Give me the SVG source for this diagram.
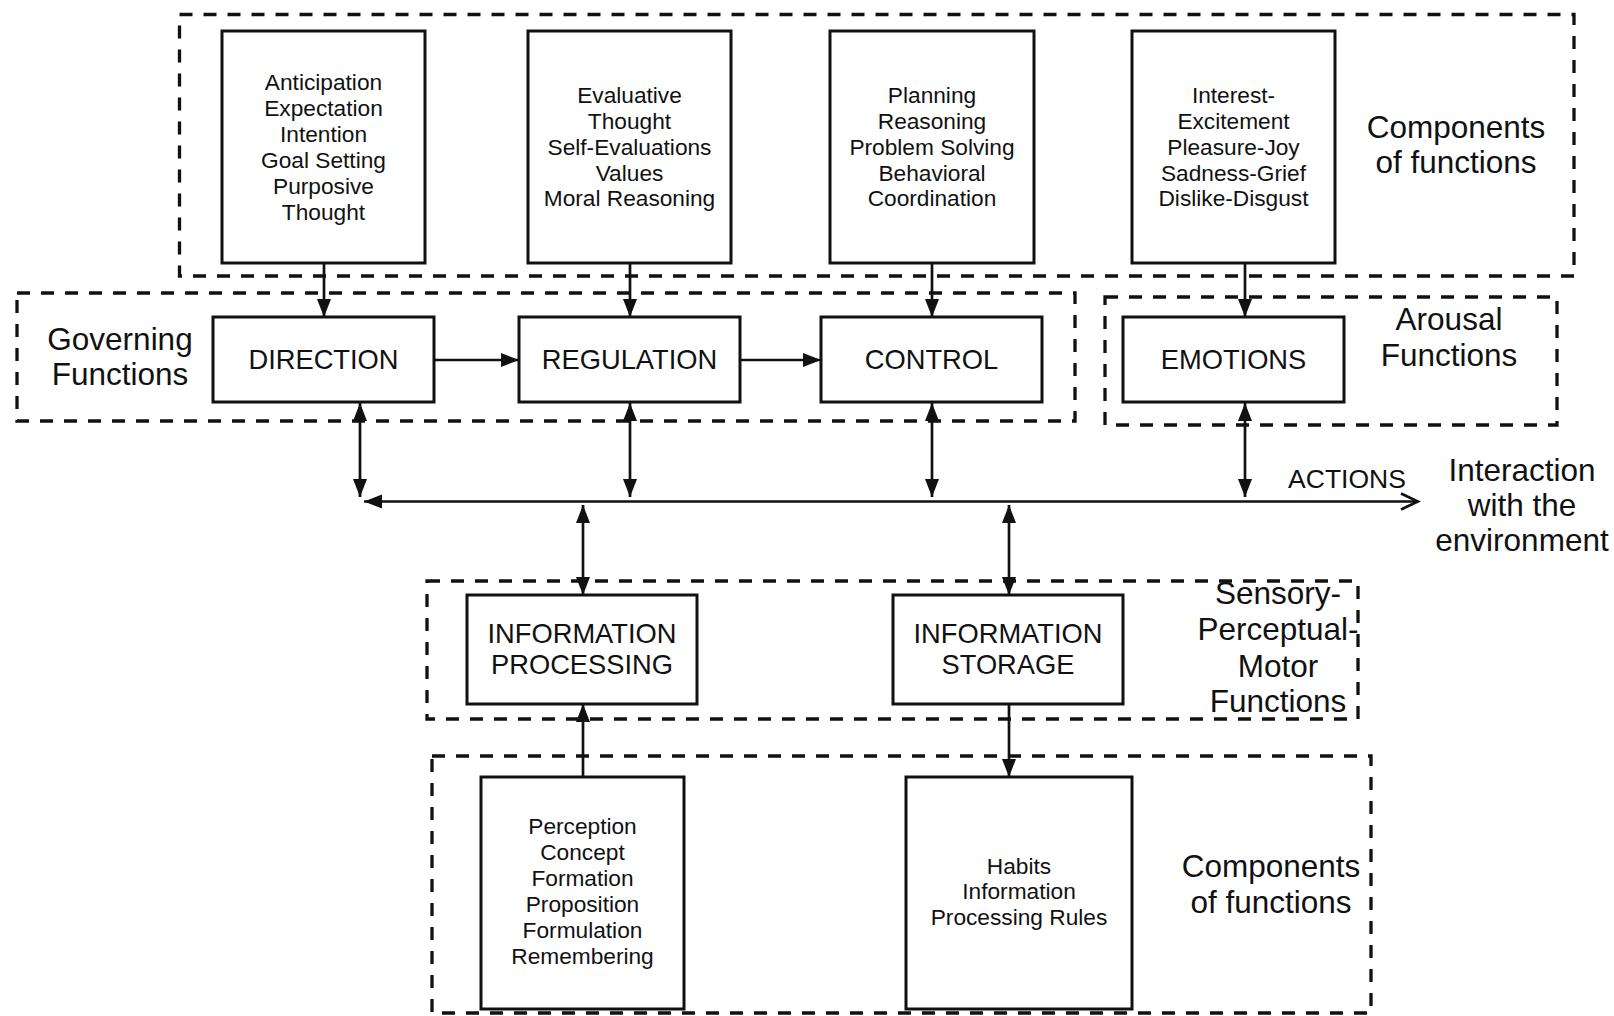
<svg xmlns="http://www.w3.org/2000/svg" width="1614" height="1016" viewBox="0 0 1614 1016">
<style>
text{font-family:"Liberation Sans",Arial,sans-serif;fill:#111;text-anchor:middle}
.sm{font-size:22.7px}
.md{font-size:27.3px}
.lg{font-size:31.5px}
.act{font-size:26.5px}
.box{fill:#fff;stroke:#111;stroke-width:3}
.dash{fill:none;stroke:#111;stroke-width:3.3;stroke-dasharray:13 11}
.ln{fill:none;stroke:#111;stroke-width:2.7}
.one{marker-end:url(#ah)}
.two{marker-start:url(#ah);marker-end:url(#ah)}
</style>
<defs>
<marker id="ah" markerUnits="userSpaceOnUse" markerWidth="19" markerHeight="15" refX="18" refY="7.5" orient="auto-start-reverse" viewBox="0 0 19 15">
<path d="M0,0.5 L18,7.5 L0,14.5 z" fill="#111"/>
</marker>
<marker id="open" markerUnits="userSpaceOnUse" markerWidth="22" markerHeight="20" refX="19" refY="10" orient="auto" viewBox="0 0 22 20">
<path d="M2,2 L19,10 L2,18" fill="none" stroke="#111" stroke-width="2.7"/>
</marker>
</defs>
<rect width="1614" height="1016" fill="#fff"/>

<g id="group-components-top">
<rect class="dash" x="179.5" y="14.5" width="1394.5" height="261.5"/>
<text class="lg" x="1456" y="138">Components</text>
<text class="lg" x="1456" y="173">of functions</text>
</g>
<g id="group-governing">
<rect class="dash" x="17" y="293" width="1058" height="128"/>
<text class="lg" x="120" y="350">Governing</text>
<text class="lg" x="120" y="385">Functions</text>
</g>
<g id="group-arousal">
<rect class="dash" x="1105" y="297" width="452" height="128"/>
<text class="lg" x="1449" y="330">Arousal</text>
<text class="lg" x="1449" y="366">Functions</text>
</g>
<g id="group-sensory">
<rect class="dash" x="427" y="581" width="931" height="138"/>
<text class="lg" x="1278" y="604">Sensory-</text>
<text class="lg" x="1278" y="640">Perceptual-</text>
<text class="lg" x="1278" y="677">Motor</text>
<text class="lg" x="1278" y="712">Functions</text>
</g>
<g id="group-components-bottom">
<rect class="dash" x="432" y="756" width="939" height="257"/>
<text class="lg" x="1271" y="877">Components</text>
<text class="lg" x="1271" y="913">of functions</text>
</g>

<g id="connectors">
<line class="ln one" x1="324" y1="263" x2="324" y2="317"/>
<line class="ln one" x1="630" y1="263" x2="630" y2="317"/>
<line class="ln one" x1="932" y1="263" x2="932" y2="317"/>
<line class="ln one" x1="1245" y1="263" x2="1245" y2="317"/>
<line class="ln one" x1="434" y1="360" x2="519" y2="360"/>
<line class="ln one" x1="740" y1="360" x2="821" y2="360"/>
<line class="ln two" x1="360" y1="403" x2="360" y2="497"/>
<line class="ln two" x1="630" y1="403" x2="630" y2="497"/>
<line class="ln two" x1="932" y1="403" x2="932" y2="497"/>
<line class="ln two" x1="1245" y1="403" x2="1245" y2="497"/>
<line class="ln" x1="364" y1="501.5" x2="1418" y2="501.5" marker-start="url(#ah)" marker-end="url(#open)"/>
<line class="ln two" x1="583" y1="505" x2="583" y2="595"/>
<line class="ln two" x1="1009" y1="505" x2="1009" y2="595"/>
<line class="ln one" x1="1009" y1="704" x2="1009" y2="777"/>
<line class="ln one" x1="583" y1="777" x2="583" y2="704"/>
<text class="act" x="1347" y="488">ACTIONS</text>
</g>

<g id="label-environment">
<text class="lg" x="1522" y="481">Interaction</text>
<text class="lg" x="1522" y="516">with the</text>
<text class="lg" x="1522" y="551">environment</text>
</g>

<g id="node-anticipation">
<rect class="box" x="222" y="31" width="203" height="232"/>
<text class="sm" x="323.5" y="90">Anticipation</text>
<text class="sm" x="323.5" y="116">Expectation</text>
<text class="sm" x="323.5" y="142">Intention</text>
<text class="sm" x="323.5" y="168">Goal Setting</text>
<text class="sm" x="323.5" y="194">Purposive</text>
<text class="sm" x="323.5" y="220">Thought</text>
</g>
<g id="node-evaluative">
<rect class="box" x="528" y="31" width="203" height="232"/>
<text class="sm" x="629.5" y="103">Evaluative</text>
<text class="sm" x="629.5" y="129">Thought</text>
<text class="sm" x="629.5" y="155">Self-Evaluations</text>
<text class="sm" x="629.5" y="181">Values</text>
<text class="sm" x="629.5" y="206">Moral Reasoning</text>
</g>
<g id="node-planning">
<rect class="box" x="830" y="31" width="204" height="232"/>
<text class="sm" x="932" y="103">Planning</text>
<text class="sm" x="932" y="129">Reasoning</text>
<text class="sm" x="932" y="155">Problem Solving</text>
<text class="sm" x="932" y="181">Behavioral</text>
<text class="sm" x="932" y="206">Coordination</text>
</g>
<g id="node-interest">
<rect class="box" x="1132" y="31" width="203" height="232"/>
<text class="sm" x="1233.5" y="103">Interest-</text>
<text class="sm" x="1233.5" y="129">Excitement</text>
<text class="sm" x="1233.5" y="155">Pleasure-Joy</text>
<text class="sm" x="1233.5" y="181">Sadness-Grief</text>
<text class="sm" x="1233.5" y="206">Dislike-Disgust</text>
</g>

<g id="node-direction">
<rect class="box" x="213" y="317" width="221" height="85"/>
<text class="md" x="323.5" y="369">DIRECTION</text>
</g>
<g id="node-regulation">
<rect class="box" x="519" y="317" width="221" height="85"/>
<text class="md" x="629.5" y="369">REGULATION</text>
</g>
<g id="node-control">
<rect class="box" x="821" y="317" width="221" height="85"/>
<text class="md" x="931.5" y="369">CONTROL</text>
</g>
<g id="node-emotions">
<rect class="box" x="1123" y="317" width="221" height="85"/>
<text class="md" x="1233.5" y="369">EMOTIONS</text>
</g>

<g id="node-info-processing">
<rect class="box" x="467" y="595" width="230" height="109"/>
<text class="md" x="582" y="643">INFORMATION</text>
<text class="md" x="582" y="674">PROCESSING</text>
</g>
<g id="node-info-storage">
<rect class="box" x="893" y="595" width="230" height="109"/>
<text class="md" x="1008" y="643">INFORMATION</text>
<text class="md" x="1008" y="674">STORAGE</text>
</g>

<g id="node-perception">
<rect class="box" x="481" y="777" width="203" height="232"/>
<text class="sm" x="582.5" y="834">Perception</text>
<text class="sm" x="582.5" y="860">Concept</text>
<text class="sm" x="582.5" y="886">Formation</text>
<text class="sm" x="582.5" y="912">Proposition</text>
<text class="sm" x="582.5" y="938">Formulation</text>
<text class="sm" x="582.5" y="964">Remembering</text>
</g>
<g id="node-habits">
<rect class="box" x="906" y="777" width="226" height="232"/>
<text class="sm" x="1019" y="874">Habits</text>
<text class="sm" x="1019" y="899">Information</text>
<text class="sm" x="1019" y="925">Processing Rules</text>
</g>
</svg>
